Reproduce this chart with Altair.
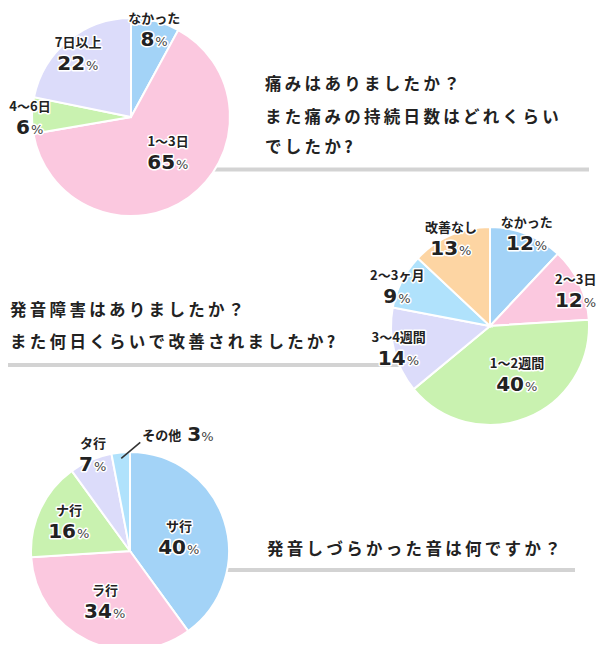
import math
import altair as alt
import pandas as pd

# ---------------- data ----------------
q1_lines = ["痛みはありましたか？", "また痛みの持続日数はどれくらい", "でしたか?"]
q1_cats = ["なかった", "1〜3日", "4〜6日", "7日以上"]
q1_vals = [8, 65, 6, 22]

q2_lines = ["発音障害はありましたか？", "また何日くらいで改善されましたか?"]
q2_cats = ["なかった", "2〜3日", "1〜2週間", "3〜4週間", "2〜3ヶ月", "改善なし"]
q2_vals = [12, 12, 40, 14, 9, 13]

q3_lines = ["発音しづらかった音は何ですか？"]
q3_cats = ["サ行", "ラ行", "ナ行", "タ行", "その他"]
q3_vals = [40, 34, 16, 7, 3]

# ---------------- styles / layout ----------------
BLUE, PINK, GREEN, LAV, PEACH, SKY = "#a3d3f7", "#fbc8df", "#c9f2b0", "#dcdcfa", "#fdd5a3", "#b0e2fc"
q1_colors = [BLUE, PINK, GREEN, LAV]
q2_colors = [BLUE, PINK, GREEN, LAV, SKY, PEACH]
q3_colors = [BLUE, PINK, GREEN, LAV, SKY]

JP = "Noto Sans CJK JP"
NUM = "DejaVu Sans"
INK = "#222222"
RULE = "#d3d3d3"
W, H = 590, 636
R = 99

# label placement: angle nudge (deg) from slice middle, radius (px); radius 0 = callout
q1_nudge, q1_lr = [0.6, -11, -0.9, -0.4], [91, 51, 101, 83]
q2_nudge, q2_lr = [0, 2.5, -7.8, 0.8, -3.7, -0.5], [100, 93, 55, 94, 101, 96]
q3_nudge, q3_lr = [2, 1.4, 1, 2.5, 0], [51, 56, 68, 104, 0]


def pie_df(cats, vals, nudges, radii):
    total = sum(vals)
    rows, cum = [], 0
    for i, (c, v) in enumerate(zip(cats, vals)):
        mid = (cum + v / 2) / total * 360
        cum += v
        rows.append(dict(idx=i, cat=c, value=v, pct=str(v), nd=len(str(v)),
                         mid=mid, lt=math.radians(mid + nudges[i]), lr=radii[i]))
    return pd.DataFrame(rows)


def halo(kw):
    return dict(kw, stroke="white", strokeWidth=3, strokeJoin="round", fill="white")


def pie_layer(df, cats, colors, cx, cy):
    base = alt.Chart(df)
    arcs = base.mark_arc(radius=R, stroke="white", strokeWidth=2).encode(
        theta=alt.Theta("value:Q", stack=True),
        color=alt.Color("cat:N", scale=alt.Scale(domain=cats, range=colors), legend=None),
        order=alt.Order("idx:Q"),
        x=alt.value(cx), y=alt.value(cy),
    )
    lab = base.transform_filter("datum.lr > 0")
    pos = dict(x=alt.value(cx), y=alt.value(cy),
               theta=alt.Theta("lt:Q", scale=None, stack=None),
               radius=alt.Radius("lr:Q", scale=None))
    layers = [arcs]
    name_kw = dict(font=JP, fontSize=13, fontWeight="bold", baseline="middle", align="center", dy=-10)
    layers.append(lab.mark_text(**halo(name_kw)).encode(text="cat:N", **pos))
    layers.append(lab.mark_text(**name_kw, fill=INK).encode(text="cat:N", **pos))
    for nd, d in [(1, 0), (2, 7)]:
        sub = lab.transform_filter(f"datum.nd == {nd}")
        num_kw = dict(font=NUM, fontSize=20, fontWeight="bold", align="right", baseline="alphabetic", dy=17, dx=d)
        pc_kw = dict(font=NUM, fontSize=13, align="left", baseline="alphabetic", dy=17, dx=d + 1)
        layers.append(sub.mark_text(**halo(num_kw)).encode(text="pct:N", **pos))
        layers.append(sub.mark_text(**num_kw, fill=INK).encode(text="pct:N", **pos))
        layers.append(sub.mark_text(**halo(pc_kw)).encode(text=alt.value("%"), **pos))
        layers.append(sub.mark_text(**pc_kw, fill="#444444").encode(text=alt.value("%"), **pos))
    return alt.layer(*layers)


one = alt.Data(values=[{}])


def rule(x1, x2, y):
    return alt.Chart(one).mark_rule(color=RULE, strokeWidth=4).encode(
        x=alt.value(x1), x2=alt.value(x2), y=alt.value(y))


def question(lines, x, ys):
    out = []
    for line, y in zip(lines, ys):
        out.append(alt.Chart(one).mark_text(font=JP, fontSize=16.5, fontWeight="bold", align="left",
                                            baseline="middle", color=INK).encode(
            x=alt.value(x), y=alt.value(y), text=alt.value("\u2009".join(line))))
    return out


P1, P2, P3 = (123, 109), (482, 318), (122, 543)

df1 = pie_df(q1_cats, q1_vals, q1_nudge, q1_lr)
df2 = pie_df(q2_cats, q2_vals, q2_nudge, q2_lr)
df3 = pie_df(q3_cats, q3_vals, q3_nudge, q3_lr)

# callout for the small "その他" slice
co = df3[df3.lr == 0].iloc[0]
a = math.radians(co["mid"])
sx, sy = P3[0] + 93 * math.sin(a), P3[1] - 93 * math.cos(a)
ex, ey = sx + 19, sy - 16
callout_df = pd.DataFrame([dict(cat=co["cat"], pct=co["pct"])])
cb = alt.Chart(callout_df)
leader = cb.mark_rule(color="#333333", strokeWidth=1.5).encode(
    x=alt.value(sx), y=alt.value(sy), x2=alt.value(ex), y2=alt.value(ey))
cn_kw = dict(font=JP, fontSize=13, fontWeight="bold", align="left", baseline="middle", dx=2, dy=-6)
cnum_kw = dict(font=NUM, fontSize=20, fontWeight="bold", align="left", baseline="alphabetic", dx=47, dy=-1)
cpc_kw = dict(font=NUM, fontSize=13, align="left", baseline="alphabetic", dx=61, dy=-1)
cpos = dict(x=alt.value(ex), y=alt.value(ey))
callout = alt.layer(
    leader,
    cb.mark_text(**halo(cn_kw)).encode(text="cat:N", **cpos),
    cb.mark_text(**cn_kw, fill=INK).encode(text="cat:N", **cpos),
    cb.mark_text(**halo(cnum_kw)).encode(text="pct:N", **cpos),
    cb.mark_text(**cnum_kw, fill=INK).encode(text="pct:N", **cpos),
    cb.mark_text(**cpc_kw, fill="#444444").encode(text=alt.value("%"), **cpos),
)

chart = alt.layer(
    rule(180, 581, 161.5),
    rule(0, 450, 357),
    rule(150, 567, 562),
    *question(q1_lines, 257, [77, 110, 140]),
    *question(q2_lines, 2, [303, 335]),
    *question(q3_lines, 259, [542]),
    pie_layer(df1, q1_cats, q1_colors, *P1),
    pie_layer(df2, q2_cats, q2_colors, *P2),
    pie_layer(df3, q3_cats, q3_colors, *P3),
    callout,
).resolve_scale(theta="independent", color="independent").properties(
    width=W, height=H, padding=0, autosize="none", background="white"
).configure_view(stroke=None)

chart.save("out.html", embed_options={"renderer": "svg", "actions": False})
